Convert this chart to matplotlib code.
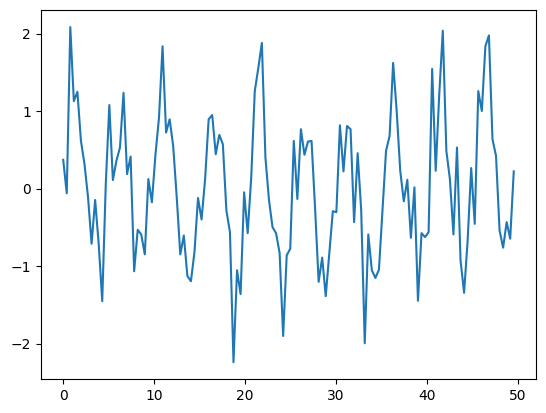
import numpy as np
import matplotlib
matplotlib.use('Agg')
import matplotlib.pyplot as plt

# values, one per sample
y = [
    0.376, -0.056, 2.089, 1.133, 1.254, 0.620, 0.321, -0.107, -0.707, -0.142,
    -0.707, -1.448, 0.064, 1.083, 0.115, 0.364, 0.535, 1.241, 0.192, 0.419,
    -1.062, -0.527, -0.587, -0.844, 0.128, -0.171, 0.441, 0.920, 1.841, 0.728,
    0.899, 0.556, -0.107, -0.844, -0.600, -1.122, -1.191, -0.814, -0.116, -0.394,
    0.128, 0.899, 0.954, 0.449, 0.698, 0.578, -0.278, -0.557, -2.236, -1.049,
    -1.357, -0.043, -0.570, 0.149, 1.263, 1.562, 1.884, 0.406, -0.142, -0.493,
    -0.570, -0.827, -1.897, -0.856, -0.771, 0.620, -0.129, 0.771, 0.441, 0.612,
    0.620, -0.250, -1.199, -0.886, -1.383, -0.835, -0.287, -0.300, 0.822, 0.227,
    0.813, 0.771, -0.428, 0.462, -0.278, -1.991, -0.587, -1.049, -1.148, -1.040,
    -0.278, 0.492, 0.685, 1.627, 1.006, 0.235, -0.159, 0.119, -0.630, 0.021,
    -1.443, -0.570, -0.621, -0.557, 1.549, 0.235, 1.220, 2.042, 0.492, 0.128,
    -0.587, 0.535, -0.921, -1.340, -0.664, 0.270, -0.450, 1.263, 1.006, 1.841,
    1.982, 0.642, 0.428, -0.535, -0.758, -0.428, -0.642, 0.227,
]
x = np.linspace(0, 49.55, len(y))

fig = plt.figure(figsize=(5.46, 4.13), dpi=100)
ax = fig.add_axes([0.0745, 0.0823, 0.9077, 0.8927])
ax.plot(x, y)
ax.set_xticks([0, 10, 20, 30, 40, 50])
ax.set_yticks([-2, -1, 0, 1, 2])

fig.savefig('out.png', dpi=100)
